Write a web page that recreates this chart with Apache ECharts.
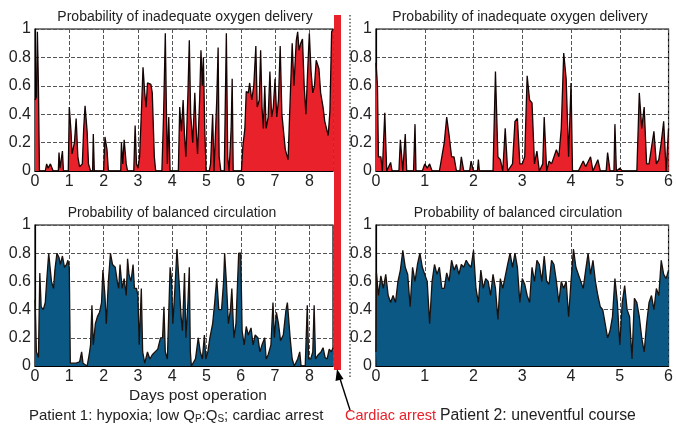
<!DOCTYPE html>
<html><head><meta charset="utf-8">
<script src="https://cdn.jsdelivr.net/npm/echarts@6/dist/echarts.min.js"></script>
<style>html,body{margin:0;padding:0;background:#fff}#c{width:676px;height:431px}</style>
</head><body><div id="c"></div>
<script>
// ---- Data ----
const xTicksP1 = [0,1,2,3,4,5,6,7,8];
const xTicksP2 = [0,1,2,3,4,5,6];
const yTicks = [0,0.2,0.4,0.6,0.8,1];
const p1End = 8.69;   // cardiac arrest (days)
const p2End = 6;

const p1OxyDays = [0,0.04,0.07,0.1,0.13,0.3,0.34,0.38,0.45,0.5,0.53,0.68,0.7,0.73,0.78,0.8,0.83,0.97,1.0,1.05,1.08,1.15,1.2,1.25,1.3,1.38,1.42,1.46,1.52,1.56,1.62,1.68,1.7,1.73,2.0,2.04,2.1,2.14,2.5,2.52,2.56,2.6,2.66,2.7,2.88,2.92,2.96,3.0,3.05,3.1,3.15,3.2,3.24,3.28,3.38,3.42,3.48,3.52,3.7,3.75,3.8,3.84,3.86,3.9,3.94,4.18,4.22,4.27,4.32,4.36,4.4,4.46,4.5,4.54,4.6,4.66,4.7,4.74,4.8,4.84,4.88,4.91,4.95,4.99,5.08,5.12,5.18,5.22,5.3,5.34,5.37,5.42,5.52,5.58,5.62,5.66,5.72,5.75,5.78,6.02,6.06,6.12,6.16,6.22,6.26,6.32,6.38,6.44,6.48,6.54,6.58,6.62,6.66,6.7,6.74,6.8,6.85,6.9,6.95,7.0,7.05,7.1,7.15,7.2,7.3,7.38,7.44,7.5,7.55,7.62,7.66,7.7,7.75,7.8,7.85,7.9,7.95,8.0,8.05,8.1,8.15,8.2,8.28,8.33,8.4,8.45,8.5,8.55,8.6,8.65,8.69];
const p1OxyProb = [0.5,0.52,0.98,0.6,0.0,0.0,0.05,0.02,0.05,0.05,0.0,0.0,0.13,0.02,0.02,0.14,0.0,0.0,0.45,0.28,0.12,0.2,0.37,0.1,0.03,0.05,0.3,0.46,0.28,0.05,0.0,0.0,0.26,0.0,0.0,0.24,0.15,0.0,0.0,0.2,0.05,0.22,0.05,0.0,0.0,0.32,0.05,0.02,0.1,0.4,0.73,0.55,0.45,0.62,0.61,0.55,0.1,0.0,0.0,0.4,0.97,0.3,0.05,0.38,0.0,0.0,0.45,0.28,0.5,0.25,0.1,0.55,0.92,0.4,0.2,0.55,0.3,0.12,0.5,0.85,0.6,0.8,0.3,0.0,0.0,0.05,0.4,0.0,0.5,0.87,0.1,0.0,0.0,0.97,0.1,0.0,0.3,0.65,0.0,0.0,0.17,0.3,0.56,0.55,0.62,0.5,0.6,0.88,0.45,0.5,0.85,0.45,0.3,0.6,0.3,0.38,0.7,0.38,0.45,0.65,0.38,0.5,0.88,0.4,0.15,0.08,0.5,0.9,0.6,0.92,0.98,0.85,0.9,0.93,0.6,0.4,0.7,0.97,0.7,0.55,0.6,0.78,0.72,0.55,0.45,0.35,0.3,0.25,0.42,0.98,1.0];

const p1BalDays = [0,0.02,0.04,0.1,0.14,0.18,0.24,0.3,0.34,0.4,0.43,0.48,0.54,0.58,0.64,0.7,0.74,0.8,0.86,0.92,0.96,1.0,1.03,1.2,1.3,1.36,1.4,1.52,1.58,1.62,1.66,1.7,1.76,1.82,1.88,1.94,1.98,2.04,2.08,2.14,2.2,2.26,2.34,2.4,2.44,2.48,2.54,2.6,2.66,2.7,2.74,2.8,2.86,2.9,2.96,3.0,3.04,3.1,3.14,3.2,3.28,3.35,3.42,3.5,3.58,3.66,3.72,3.76,3.8,3.86,3.94,3.98,4.02,4.08,4.14,4.2,4.26,4.3,4.36,4.4,4.46,4.5,4.53,4.56,4.68,4.76,4.82,4.88,4.94,4.98,5.04,5.1,5.18,5.24,5.3,5.36,5.44,5.5,5.53,5.58,5.64,5.7,5.74,5.8,5.86,5.94,6.0,6.04,6.1,6.16,6.22,6.3,6.36,6.42,6.5,6.56,6.62,6.7,6.74,6.8,6.88,6.94,6.98,7.04,7.1,7.16,7.24,7.32,7.36,7.44,7.5,7.56,7.66,7.72,7.76,7.88,7.94,7.98,8.04,8.1,8.14,8.18,8.26,8.34,8.4,8.46,8.52,8.58,8.64,8.69];
const p1BalProb = [0.47,0.3,0.1,0.06,0.66,0.42,0.4,0.45,0.6,0.8,0.8,0.6,0.55,0.68,0.8,0.77,0.72,0.78,0.7,0.72,0.75,0.7,0.02,0.02,0.03,0.1,0.02,0.0,0.08,0.15,0.43,0.15,0.3,0.35,0.38,0.45,0.68,0.5,0.3,0.6,0.8,0.72,0.7,0.6,0.55,0.72,0.55,0.62,0.5,0.76,0.65,0.6,0.72,0.55,0.55,0.5,0.15,0.55,0.1,0.02,0.1,0.05,0.08,0.1,0.12,0.2,0.2,0.42,0.1,0.05,0.7,0.62,0.3,0.55,0.83,0.6,0.35,0.25,0.66,0.2,0.45,0.7,0.1,0.0,0.05,0.2,0.1,0.05,0.22,0.05,0.1,0.2,0.3,0.45,0.62,0.4,0.4,0.6,0.8,0.6,0.3,0.4,0.55,0.2,0.3,0.8,0.8,0.25,0.15,0.28,0.22,0.27,0.15,0.22,0.2,0.1,0.15,0.2,0.05,0.08,0.15,0.45,0.2,0.38,0.3,0.18,0.22,0.4,0.45,0.2,0.05,0.0,0.05,0.1,0.0,0.0,0.43,0.05,0.05,0.1,0.43,0.05,0.08,0.1,0.13,0.06,0.05,0.12,0.1,0.13];

const p2OxyDays = [0,0.03,0.05,0.1,0.13,0.18,0.22,0.3,0.33,0.47,0.5,0.55,0.58,0.6,0.63,0.77,0.8,0.82,0.95,1.0,1.05,1.1,1.15,1.3,1.35,1.4,1.45,1.5,1.55,1.6,1.65,1.72,1.75,1.8,1.92,1.95,2.0,2.08,2.1,2.12,2.4,2.45,2.5,2.55,2.6,2.65,2.7,2.8,2.85,2.9,2.95,3.0,3.05,3.1,3.15,3.2,3.25,3.3,3.35,3.42,3.45,3.5,3.55,3.6,3.7,3.75,3.8,3.85,3.9,3.95,4.0,4.03,4.15,4.25,4.3,4.4,4.45,4.55,4.6,4.72,4.75,4.8,4.88,4.9,4.93,5.0,5.05,5.35,5.4,5.45,5.5,5.55,5.6,5.7,5.75,5.8,5.85,5.9,5.95,6.0];
const p2OxyProb = [0.76,0.6,0.1,0.1,0.0,0.41,0.0,0.06,0.0,0.0,0.22,0.0,0.0,0.26,0.0,0.0,0.33,0.0,0.0,0.05,0.02,0.05,0.0,0.0,0.1,0.2,0.38,0.25,0.1,0.1,0.0,0.0,0.1,0.0,0.0,0.07,0.0,0.0,0.08,0.0,0.0,0.7,0.1,0.08,0.0,0.3,0.0,0.05,0.35,0.37,0.05,0.05,0.1,0.67,0.5,0.48,0.05,0.14,0.0,0.05,0.38,0.0,0.07,0.05,0.15,0.1,0.3,0.83,0.65,0.1,0.62,0.0,0.0,0.07,0.03,0.1,0.0,0.08,0.0,0.0,0.13,0.0,0.0,0.33,0.0,0.02,0.0,0.0,0.55,0.3,0.45,0.05,0.05,0.28,0.05,0.08,0.2,0.35,0.0,0.3];

const p2BalDays = [0,0.01,0.05,0.1,0.15,0.2,0.25,0.3,0.35,0.4,0.45,0.5,0.55,0.6,0.65,0.7,0.75,0.8,0.85,0.9,0.95,1.0,1.05,1.1,1.15,1.2,1.25,1.3,1.35,1.4,1.45,1.5,1.55,1.6,1.65,1.7,1.75,1.8,1.85,1.9,1.95,2.0,2.05,2.1,2.15,2.2,2.25,2.3,2.35,2.4,2.45,2.5,2.55,2.6,2.7,2.75,2.8,2.85,2.9,2.95,3.0,3.05,3.1,3.15,3.2,3.25,3.3,3.35,3.4,3.45,3.5,3.55,3.6,3.65,3.7,3.75,3.8,3.85,3.9,3.95,4.0,4.05,4.1,4.15,4.2,4.25,4.3,4.35,4.4,4.45,4.5,4.55,4.6,4.65,4.7,4.75,4.8,4.85,4.9,4.95,5.0,5.05,5.1,5.15,5.2,5.25,5.3,5.35,5.4,5.45,5.5,5.55,5.6,5.65,5.7,5.75,5.8,5.85,5.9,5.95,6.0];
const p2BalProb = [0.1,0.66,0.5,0.64,0.55,0.65,0.5,0.45,0.5,0.45,0.6,0.68,0.82,0.7,0.65,0.42,0.7,0.6,0.72,0.8,0.7,0.65,0.6,0.3,0.6,0.72,0.65,0.7,0.55,0.55,0.66,0.6,0.75,0.68,0.72,0.65,0.72,0.7,0.75,0.72,0.7,0.82,0.55,0.45,0.68,0.55,0.62,0.6,0.5,0.65,0.55,0.33,0.62,0.55,0.72,0.8,0.7,0.8,0.7,0.45,0.62,0.58,0.5,0.45,0.7,0.6,0.75,0.72,0.6,0.78,0.6,0.58,0.75,0.72,0.6,0.45,0.6,0.55,0.6,0.35,0.6,0.83,0.7,0.65,0.6,0.55,0.68,0.8,0.65,0.75,0.6,0.5,0.42,0.4,0.3,0.2,0.25,0.35,0.62,0.45,0.15,0.45,0.57,0.4,0.35,0.05,0.48,0.45,0.35,0.2,0.1,0.3,0.45,0.5,0.4,0.55,0.5,0.75,0.65,0.62,0.68];

const titleOxy = 'Probability of inadequate oxygen delivery';
const titleBal = 'Probability of balanced circulation';

// ---- Chart ----
const FONT = '"Liberation Sans", Arial, Helvetica, sans-serif';
const TXT = '#222';
const RED = '#e8212b';
const BLUE = '#0b5884';
const pairs = (xs, ys) => xs.map((x, i) => [x, ys[i]]);

const grids = [
  {left: 35, right: 343, top: 29, height: 142},
  {left: 35, right: 343, top: 225, height: 141},
  {left: 376, right: 5, top: 29, height: 142},
  {left: 376, right: 5, top: 225, height: 141}
].map(g => Object.assign({show: true, borderColor: '#000', borderWidth: 1.2, backgroundColor: 'transparent'}, g));

function xAxis(i, max, ticks) {
  return {
    type: 'value', gridIndex: i, min: 0, max: max, interval: 1,
    axisLine: {show: true, lineStyle: {color: '#000', width: 1.2}},
    axisTick: {show: false},
    axisLabel: {color: TXT, fontFamily: FONT, fontSize: 16, margin: 3,
      formatter: v => ticks.includes(v) ? String(v) : ''},
    splitLine: {show: true, lineStyle: {color: '#555', type: [4, 2], width: 1}}
  };
}
function yAxis(i) {
  return {
    type: 'value', gridIndex: i, min: 0, max: 1, interval: 0.2,
    axisLine: {show: true, lineStyle: {color: '#000', width: 1.2}},
    axisTick: {show: false},
    axisLabel: {color: TXT, fontFamily: FONT, fontSize: 16, margin: 4,
      formatter: v => { const t = yTicks.find(k => Math.abs(k - v) < 1e-6); return t === undefined ? '' : String(t); }},
    splitLine: {show: true, lineStyle: {color: '#555', type: [4, 2], width: 1}}
  };
}
function series(i, data, fill, edge) {
  return {
    type: 'line', xAxisIndex: i, yAxisIndex: i, data: data,
    showSymbol: false, symbol: 'none', smooth: false, sampling: null,
    lineStyle: {color: edge, width: 1.3},
    areaStyle: {color: fill, opacity: 1},
    z: 1, silent: true, animation: false
  };
}

const chart = echarts.init(document.getElementById('c'), null, {renderer: 'canvas'});
chart.setOption({
  animation: false,
  backgroundColor: '#fff',
  grid: grids,
  xAxis: [xAxis(0, p1End, xTicksP1), xAxis(1, p1End, xTicksP1), xAxis(2, p2End, xTicksP2), xAxis(3, p2End, xTicksP2)],
  yAxis: [yAxis(0), yAxis(1), yAxis(2), yAxis(3)],
  series: [
    series(0, pairs(p1OxyDays, p1OxyProb), RED, '#140404'),
    series(1, pairs(p1BalDays, p1BalProb), BLUE, '#1a100c'),
    series(2, pairs(p2OxyDays, p2OxyProb), RED, '#140404'),
    series(3, pairs(p2BalDays, p2BalProb), BLUE, '#1a100c')
  ],
  graphic: [
    {type: 'text', x: 185, y: 17, style: {text: titleOxy, font: '14px ' + FONT, fill: TXT, textAlign: 'center', textVerticalAlign: 'middle'}},
    {type: 'text', x: 520, y: 17, style: {text: titleOxy, font: '14px ' + FONT, fill: TXT, textAlign: 'center', textVerticalAlign: 'middle'}},
    {type: 'text', x: 172, y: 213, style: {text: titleBal, font: '14px ' + FONT, fill: TXT, textAlign: 'center', textVerticalAlign: 'middle'}},
    {type: 'text', x: 518, y: 213, style: {text: titleBal, font: '14px ' + FONT, fill: TXT, textAlign: 'center', textVerticalAlign: 'middle'}},
    {type: 'text', x: 198, y: 396, style: {text: 'Days post operation', font: '15.5px ' + FONT, fill: TXT, textAlign: 'center', textVerticalAlign: 'middle'}},
    // cardiac arrest marker
    {type: 'rect', shape: {x: 334, y: 15, width: 7, height: 355}, style: {fill: RED}, z: 10},
    // dotted separator
    {type: 'line', shape: {x1: 350, y1: 15, x2: 350, y2: 378}, style: {stroke: '#000', lineWidth: 1, lineDash: [1.5, 2]}, z: 10},
    // arrow
    {type: 'line', shape: {x1: 350, y1: 410, x2: 338.5, y2: 374}, style: {stroke: '#000', lineWidth: 1.4}, z: 10},
    {type: 'polygon', shape: {points: [[337, 369], [343.5, 379], [335.5, 381]]}, style: {fill: '#000'}, z: 10},
    // captions
    {type: 'text', x: 29, y: 416, style: {
      text: 'Patient 1: hypoxia; low Q{s|P}:Q{s|S}; cardiac arrest',
      font: '15px ' + FONT, fill: TXT, textVerticalAlign: 'middle',
      rich: {s: {fontSize: 10, fontFamily: FONT, fill: TXT, padding: [7, 0, 0, 0]}}
    }},
    {type: 'text', x: 345, y: 416, style: {text: 'Cardiac arrest', font: '14.5px ' + FONT, fill: RED, textVerticalAlign: 'middle'}},
    {type: 'text', x: 440, y: 416, style: {text: 'Patient 2: uneventful course', font: '15.8px ' + FONT, fill: TXT, textVerticalAlign: 'middle'}}
  ]
});
</script>
</body></html>
